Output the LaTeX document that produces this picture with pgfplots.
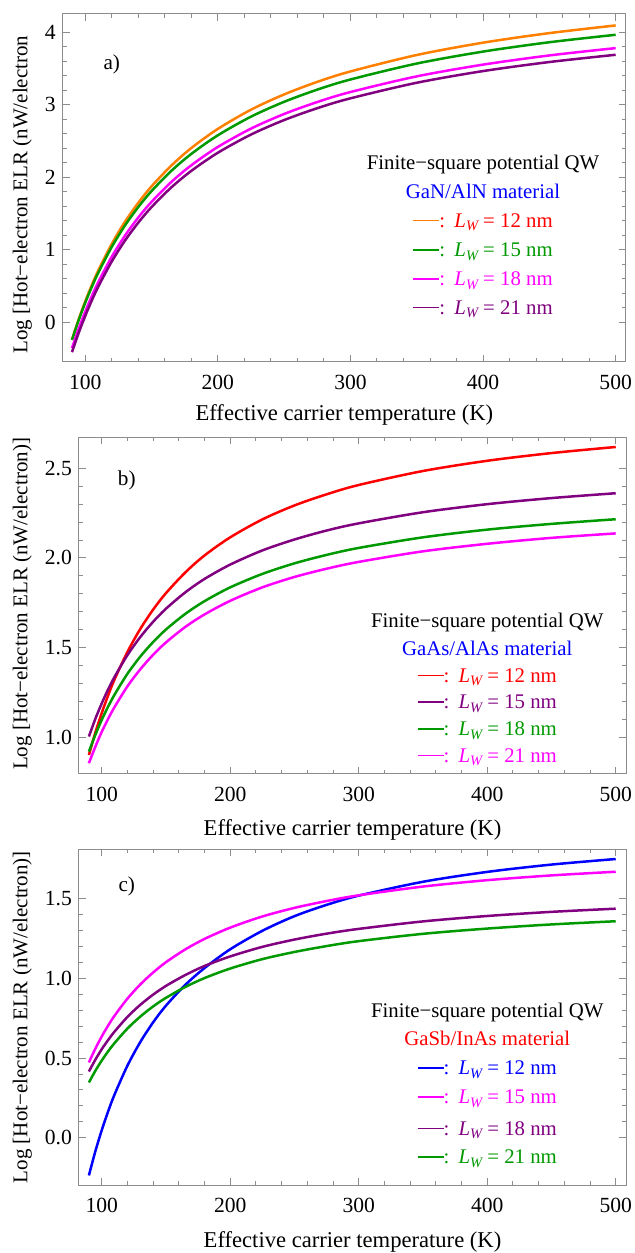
\documentclass[border=0pt]{standalone}
\usepackage{fontspec}
\setmainfont{Liberation Serif}
\usepackage{pgfplots}
\usepackage{pgfplotstable}
\pgfplotsset{compat=1.18}

\definecolor{mOrange}{rgb}{1,0.5,0}
\definecolor{mGreen}{rgb}{0,0.6,0}
\definecolor{mMagenta}{rgb}{1,0,1}
\definecolor{mPurple}{rgb}{0.5,0,0.5}
\definecolor{mRed}{rgb}{1,0,0}
\definecolor{mBlue}{rgb}{0,0,1}
\definecolor{frameGray}{gray}{0.55}

% legend line: coloured dash, then ": L_W = .. nm" in the text colour
\newcommand{\lwentry}[3]{\textcolor{#1}{\rule[3.0pt]{13pt}{0.8pt}}\textcolor{#2}{:\hspace{0.45em}\textit{L}\raisebox{-1.7pt}{\fontsize{7.2}{8}\selectfont\itshape W}~=~#3~nm}}

% GaN/AlN well widths 12, 15, 18, 21 nm
\pgfplotstableread{
T    w12    w15    w18    w21
90  -0.240 -0.244 -0.358 -0.413
95   0.039  0.027 -0.092 -0.149
100  0.289  0.270  0.147  0.088
105  0.516  0.490  0.363  0.303
110  0.722  0.690  0.560  0.498
120  1.082  1.040  0.905  0.839
130  1.388  1.337  1.196  1.128
140  1.649  1.591  1.446  1.375
150  1.876  1.811  1.662  1.590
165  2.164  2.091  1.938  1.863
180  2.405  2.324  2.167  2.090
200  2.669  2.581  2.420  2.340
225  2.934  2.838  2.673  2.591
250  3.145  3.043  2.875  2.791
275  3.318  3.211  3.040  2.955
300  3.462  3.351  3.178  3.091
350  3.689  3.571  3.394  3.306
400  3.859  3.736  3.556  3.467
450  3.991  3.865  3.683  3.592
500  4.097  3.968  3.784  3.692
}\tabGaN

% GaAs/AlAs
\pgfplotstableread{
T    w12   w15   w18   w21
90   0.901 1.004 0.920 0.855
95   1.025 1.102 1.013 0.947
100  1.135 1.189 1.097 1.030
105  1.234 1.267 1.171 1.103
110  1.323 1.337 1.238 1.169
120  1.476 1.458 1.354 1.284
130  1.604 1.559 1.450 1.379
140  1.712 1.644 1.531 1.460
150  1.804 1.717 1.601 1.529
165  1.919 1.808 1.688 1.615
180  2.014 1.883 1.759 1.685
200  2.115 1.963 1.836 1.761
225  2.215 2.042 1.911 1.836
250  2.293 2.103 1.970 1.894
275  2.355 2.153 2.017 1.940
300  2.407 2.193 2.056 1.978
350  2.485 2.255 2.115 2.037
400  2.542 2.300 2.158 2.079
450  2.585 2.334 2.190 2.112
500  2.619 2.361 2.216 2.137
}\tabGaAs

% GaSb/InAs
\pgfplotstableread{
T    w12    w15   w18   w21
90  -0.237  0.473 0.416 0.347
95  -0.086  0.559 0.490 0.420
100  0.047  0.636 0.556 0.485
105  0.166  0.705 0.614 0.543
110  0.272  0.767 0.667 0.595
120  0.453  0.874 0.759 0.686
130  0.601  0.963 0.835 0.761
140  0.725  1.038 0.899 0.825
150  0.830  1.103 0.954 0.879
165  0.960  1.183 1.022 0.947
180  1.066  1.249 1.079 1.003
200  1.184  1.320 1.139 1.063
225  1.300  1.390 1.199 1.122
250  1.392  1.444 1.245 1.167
275  1.463  1.487 1.282 1.204
300  1.521  1.523 1.312 1.235
350  1.608  1.578 1.359 1.281
400  1.670  1.618 1.393 1.314
450  1.716  1.648 1.419 1.340
500  1.751  1.671 1.439 1.360
}\tabGaSb

\pgfplotsset{
  elr/.style={
    scale only axis,
    anchor=south west,
    axis line style={frameGray, line width=0.5pt},
    tick style={frameGray, line width=0.5pt},
    major tick length=3.5pt,
    minor tick length=2pt,
    tick align=inside,
    xtick={100,200,300,400,500},
    xticklabels={100,200,300,400,500},
    minor x tick num=4,
    minor y tick num=4,
    tick label style={font=\fontsize{10.8}{13}\selectfont},
    xticklabel style={yshift=-3pt},
    xlabel={Effective carrier temperature (K)},
    xlabel style={font=\fontsize{11.3}{13.5}\selectfont},
    ylabel style={font=\fontsize{10.5}{12.5}\selectfont},
    every axis plot/.append style={line width=1.25pt, smooth, tension=0.5, no markers},
    clip mode=individual,
  },
}
\tikzset{leg/.style={anchor=base, font=\fontsize{10.4}{12.5}\selectfont}}

\begin{document}
\begin{tikzpicture}
\useasboundingbox (0,0) rectangle (317pt,626.5pt);

% a) GaN/AlN
\begin{axis}[elr, at={(31.35pt,445.5pt)}, width=281.65pt, height=174pt,
  xmin=83.0, xmax=507.8, ymin=-0.548, ymax=4.255,
  ytick={0,1,2,3,4}, yticklabels={0,1,2,3,4},
  ylabel={Log [Hot−electron ELR (nW/electron},
  xlabel style={at={(axis description cs:0.5,0)}, anchor=center, yshift=-26.5pt},
  ylabel style={at={(axis description cs:-0.0717,0.481)}, anchor=center}]
\addplot[mOrange]  table[x=T, y=w12] {\tabGaN};
\addplot[mGreen]   table[x=T, y=w15] {\tabGaN};
\addplot[mMagenta] table[x=T, y=w18] {\tabGaN};
\addplot[mPurple]  table[x=T, y=w21] {\tabGaN};
\node[font=\fontsize{10.6}{12}\selectfont] at (axis cs:120,3.565) {a)};
\node[leg] at (axis cs:400,2.112) {Finite−square potential QW};
\node[leg, text=mBlue] at (axis cs:400,1.702) {GaN/AlN material};
\node[leg] at (axis cs:400,1.311) {\lwentry{mOrange}{mRed}{12}};
\node[leg] at (axis cs:400,0.905) {\lwentry{mGreen}{mGreen}{15}};
\node[leg] at (axis cs:400,0.505) {\lwentry{mMagenta}{mMagenta}{18}};
\node[leg] at (axis cs:400,0.110) {\lwentry{mPurple}{mPurple}{21}};
\end{axis}

% b) GaAs/AlAs
\begin{axis}[elr, at={(39.5pt,239.5pt)}, width=273.5pt, height=168.35pt,
  xmin=82.3, xmax=508.0, ymin=0.795, ymax=2.673,
  ytick={1.0,1.5,2.0,2.5}, yticklabels={1.0,1.5,2.0,2.5},
  ylabel={Log [Hot−electron ELR (nW/electron)]},
  xlabel style={at={(axis description cs:0.5,0)}, anchor=center, yshift=-28pt},
  ylabel style={at={(axis description cs:-0.1037,0.505)}, anchor=center}]
\addplot[mRed]     table[x=T, y=w12] {\tabGaAs};
\addplot[mPurple]  table[x=T, y=w15] {\tabGaAs};
\addplot[mGreen]   table[x=T, y=w18] {\tabGaAs};
\addplot[mMagenta] table[x=T, y=w21] {\tabGaAs};
\node[font=\fontsize{10.6}{12}\selectfont] at (axis cs:119.5,2.435) {b)};
\node[leg] at (axis cs:400,1.611) {Finite−square potential QW};
\node[leg, text=mBlue] at (axis cs:400,1.457) {GaAs/AlAs material};
\node[leg] at (axis cs:400,1.306) {\lwentry{mRed}{mRed}{12}};
\node[leg] at (axis cs:400,1.158) {\lwentry{mPurple}{mPurple}{15}};
\node[leg] at (axis cs:400,1.009) {\lwentry{mGreen}{mGreen}{18}};
\node[leg] at (axis cs:400,0.860) {\lwentry{mMagenta}{mMagenta}{21}};
\end{axis}

% c) GaSb/InAs
\begin{axis}[elr, at={(39.5pt,34pt)}, width=273.5pt, height=167.85pt,
  xmin=82.3, xmax=508.0, ymin=-0.297, ymax=1.812,
  ytick={0.0,0.5,1.0,1.5}, yticklabels={0.0,0.5,1.0,1.5},
  ylabel={Log [Hot−electron ELR (nW/electron)]},
  xlabel style={at={(axis description cs:0.5,0)}, anchor=center, yshift=-28.3pt},
  ylabel style={at={(axis description cs:-0.1037,0.5)}, anchor=center}]
\addplot[mBlue]    table[x=T, y=w12] {\tabGaSb};
\addplot[mMagenta] table[x=T, y=w15] {\tabGaSb};
\addplot[mPurple]  table[x=T, y=w18] {\tabGaSb};
\addplot[mGreen]   table[x=T, y=w21] {\tabGaSb};
\node[font=\fontsize{10.6}{12}\selectfont] at (axis cs:119.5,1.577) {c)};
\node[leg] at (axis cs:400,0.755) {Finite−square potential QW};
\node[leg, text=mRed] at (axis cs:400,0.577) {GaSb/InAs material};
\node[leg] at (axis cs:400,0.395) {\lwentry{mBlue}{mBlue}{12}};
\node[leg] at (axis cs:400,0.213) {\lwentry{mMagenta}{mMagenta}{15}};
\node[leg] at (axis cs:400,0.015) {\lwentry{mPurple}{mPurple}{18}};
\node[leg] at (axis cs:400,-0.163) {\lwentry{mGreen}{mGreen}{21}};
\end{axis}
\end{tikzpicture}
\end{document}
